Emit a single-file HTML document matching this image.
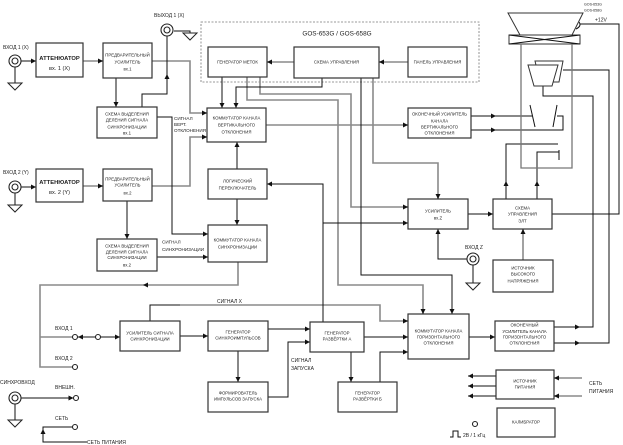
<!DOCTYPE html>
<html><head><meta charset="utf-8"><style>
html,body{margin:0;padding:0;background:#fff;}
svg{display:block;}
text{font-family:"Liberation Sans",Arial,sans-serif;fill:#222;}
.b{fill:#fff;stroke:#333;stroke-width:1.2;}
.k{fill:none;stroke:#111;stroke-width:1;}
.g{fill:none;stroke:#8a8a8a;stroke-width:1.6;}
.t{font-size:4.3px;text-anchor:middle;}
.l{font-size:5px;}
.a{fill:#111;stroke:none;}
</style></head><body>
<svg width="623" height="445" viewBox="0 0 623 445" xmlns="http://www.w3.org/2000/svg">

<rect x="201" y="22" width="278" height="60" fill="none" stroke="#777" stroke-width="0.8" stroke-dasharray="2,1.5"/>
<text x="337" y="35.5" style="font-size:6.4px;text-anchor:middle;">GOS-653G / GOS-658G</text>

<path class="g" d="M83,61 H103"/>
<path class="g" d="M83,186 H103"/>
<path class="g" d="M152,61 H190 V113 H207"/>
<path class="g" d="M152,186 H190 V137 H207"/>
<path class="g" d="M247,77 V100 H338 V285 H423 V314"/>
<path class="g" d="M260,77 V94 H351 V207 H408"/>
<path class="g" d="M373,78 V163 H438 V199"/>
<path class="g" d="M408,62 H379"/>
<path class="g" d="M294,62 H267"/>
<path class="g" d="M266,125 H408"/>
<path class="g" d="M238,262 V285 H40 V367 H72.5 M40,337 H72.5"/>
<path class="g" d="M523,260 V229"/>
<path class="g" d="M582,378 H554 M582,396 H554"/>
<path class="g" d="M180,305 H380 V321 H408"/>

<path class="k" d="M21,61 H36"/>
<path class="k" d="M21,187 H36"/>
<path class="k" d="M116,78 V107"/>
<path class="k" d="M127,201 V239"/>
<path class="k" d="M142,107 V94 H167 V36"/>
<path class="k" d="M157,117 H172 V234 H208"/>
<path class="k" d="M157,257 H208"/>
<path class="k" d="M222,77 V108"/>
<path class="k" d="M322,78 V87 H236 V108"/>
<path class="k" d="M361,78 V275 H452 V314"/>
<path class="k" d="M237,169 V142"/>
<path class="k" d="M237,199 V225"/>
<path class="k" d="M323,322 V184 H267"/>
<path class="k" d="M323,223 H408"/>
<path class="k" d="M468,214 H493"/>
<path class="k" d="M506,199 V144 H558"/>
<path class="k" d="M537,199 V152 H559 M559,150 V160"/>
<path class="k" d="M438,229 V259 H467"/>
<path class="k" d="M552,214 H619 V24 H580"/>
<path class="k" d="M576,29 Q582,26 579,22"/>
<path class="k" d="M471,116 H532"/>
<path class="k" d="M471,130 H563 V116 H557"/>
<path class="k" d="M554,327 H593 V96 H543 V86" stroke="#555"/>
<path class="k" d="M554,343 H609 V70 H563" stroke="#555"/>
<path class="k" d="M150,321 V305 H180"/>
<path class="k" d="M180,336 H208"/>
<path class="k" d="M100.5,337 H120"/>
<path class="k" d="M77.5,337 H95.5"/>
<path class="k" d="M268,329 H310"/>
<path class="k" d="M238,351 V382"/>
<path class="k" d="M268,397 H288 V342 H310"/>
<path class="k" d="M364,337 H408"/>
<path class="k" d="M351,352 V382"/>
<path class="k" d="M380,382 V352 H408"/>
<path class="k" d="M469,337 H495"/>
<path class="k" d="M496,376 H468 M496,386 H468 M496,396 H468"/>
<path class="k" d="M21,398 H73.5"/>
<path class="k" d="M72.5,427 H43 V442 H87"/>
<path class="k" d="M450,437 H453 V431 H458 V437 H461"/>

<path class="k" d="M15,67 V83"/><polygon points="8,83 22,83 15,90" fill="#fff" stroke="#222" stroke-width="1"/>
<path class="k" d="M15,193 V205"/><polygon points="8,205 22,205 15,212" fill="#fff" stroke="#222" stroke-width="1"/>
<path class="k" d="M15,404 V420"/><polygon points="8,420 22,420 15,427" fill="#fff" stroke="#222" stroke-width="1"/>
<path class="k" d="M473,265 V283"/><polygon points="466,283 480,283 473,290" fill="#fff" stroke="#222" stroke-width="1"/>
<path class="k" d="M174,31 H190 V33"/><polygon points="183,33 197,33 190,40" fill="#fff" stroke="#222" stroke-width="1"/>

<g fill="#fff" stroke="#222" stroke-width="1.1">
<circle cx="15" cy="61" r="6"/><circle cx="15" cy="61" r="3"/>
<circle cx="167" cy="30" r="6"/><circle cx="167" cy="30" r="3"/>
<circle cx="15" cy="187" r="6"/><circle cx="15" cy="187" r="3"/>
<circle cx="15" cy="398" r="6"/><circle cx="15" cy="398" r="3"/>
<circle cx="473" cy="259" r="6"/><circle cx="473" cy="259" r="3"/>
<circle cx="75" cy="337" r="2.5"/><circle cx="98" cy="337" r="2.5"/>
<circle cx="75" cy="367" r="2.5"/><circle cx="76" cy="398" r="2.5"/>
<circle cx="75" cy="427" r="2.5"/><circle cx="475" cy="424" r="2.5"/>
</g>

<polygon points="508,13 583,13 572,35 520,35" fill="#fff" stroke="#333" stroke-width="1"/>
<rect x="509" y="35" width="71" height="9" fill="#fff" stroke="#333" stroke-width="1"/>
<path class="k" d="M509,35 L580,44 M509,44 L580,35"/>
<path d="M521,44 V168 H572 V44" fill="none" stroke="#777" stroke-width="1.3"/>
<polygon points="535,61 563,61 559,82 540,82" fill="#fff" stroke="#333" stroke-width="1"/>
<polygon points="528,65 558,65 552,86 534,86" fill="#fff" stroke="#333" stroke-width="1"/>
<path class="k" d="M530,105 L535,127 M557,105 L553,127"/>

<rect class="b" x="36" y="43" width="47" height="34"/>
<rect class="b" x="103" y="43" width="49" height="35"/>
<rect class="b" x="97" y="107" width="60" height="31"/>
<rect class="b" x="36" y="169" width="47" height="33"/>
<rect class="b" x="103" y="169" width="49" height="32"/>
<rect class="b" x="97" y="239" width="60" height="32"/>
<rect class="b" x="208" y="47" width="59" height="30"/>
<rect class="b" x="294" y="47" width="85" height="31"/>
<rect class="b" x="408" y="47" width="59" height="30"/>
<rect class="b" x="207" y="108" width="59" height="34"/>
<rect class="b" x="408" y="108" width="63" height="30"/>
<rect class="b" x="208" y="169" width="59" height="30"/>
<rect class="b" x="208" y="225" width="59" height="37"/>
<rect class="b" x="408" y="199" width="60" height="30"/>
<rect class="b" x="493" y="199" width="59" height="30"/>
<rect class="b" x="493" y="260" width="60" height="32"/>
<rect class="b" x="120" y="321" width="60" height="30"/>
<rect class="b" x="208" y="321" width="60" height="30"/>
<rect class="b" x="208" y="382" width="60" height="30"/>
<rect class="b" x="310" y="322" width="54" height="30"/>
<rect class="b" x="338" y="382" width="59" height="30"/>
<rect class="b" x="408" y="314" width="61" height="45"/>
<rect class="b" x="495" y="321" width="59" height="30"/>
<rect class="b" x="496" y="370" width="58" height="29"/>
<rect class="b" x="497" y="408" width="58" height="29"/>

<g class="a">
<polygon points="36,61 31,58.5 31,63.5"/>
<polygon points="103,61 98,58.5 98,63.5"/>
<polygon points="207,113 202,110.5 202,115.5"/>
<polygon points="116,107 113.5,102 118.5,102"/>
<polygon points="167,74 164.5,79 169.5,79"/>
<polygon points="208,234 203,231.5 203,236.5"/>
<polygon points="207,137 202,134.5 202,139.5"/>
<polygon points="36,187 31,184.5 31,189.5"/>
<polygon points="103,186 98,183.5 98,188.5"/>
<polygon points="127,239 124.5,234 129.5,234"/>
<polygon points="208,257 203,254.5 203,259.5"/>
<polygon points="222,108 219.5,103 224.5,103"/>
<polygon points="236,108 233.5,103 238.5,103"/>
<polygon points="423,314 420.5,309 425.5,309"/>
<polygon points="408,207 403,204.5 403,209.5"/>
<polygon points="452,314 449.5,309 454.5,309"/>
<polygon points="438,199 435.5,194 440.5,194"/>
<polygon points="379,62 384,59.5 384,64.5"/>
<polygon points="267,62 272,59.5 272,64.5"/>
<polygon points="408,125 403,122.5 403,127.5"/>
<polygon points="237,142 234.5,147 239.5,147"/>
<polygon points="237,225 234.5,220 239.5,220"/>
<polygon points="267,184 272,181.5 272,186.5"/>
<polygon points="408,223 403,220.5 403,225.5"/>
<polygon points="143,285 148,282.5 148,287.5"/>
<polygon points="493,214 488,211.5 488,216.5"/>
<polygon points="506,181 503.5,186 508.5,186"/>
<polygon points="537,181 534.5,186 539.5,186"/>
<polygon points="523,229 520.5,234 525.5,234"/>
<polygon points="438,229 435.5,234 440.5,234"/>
<polygon points="496,116 491,113.5 491,118.5"/>
<polygon points="496,130 491,127.5 491,132.5"/>
<polygon points="580,327 575,324.5 575,329.5"/>
<polygon points="580,343 575,340.5 575,345.5"/>
<polygon points="408,321 403,318.5 403,323.5"/>
<polygon points="208,336 203,333.5 203,338.5"/>
<polygon points="120,337 115,334.5 115,339.5"/>
<polygon points="78,337 83,334.5 83,339.5"/>
<polygon points="310,329 305,326.5 305,331.5"/>
<polygon points="238,382 235.5,377 240.5,377"/>
<polygon points="310,342 305,339.5 305,344.5"/>
<polygon points="408,337 403,334.5 403,339.5"/>
<polygon points="351,382 348.5,377 353.5,377"/>
<polygon points="408,352 403,349.5 403,354.5"/>
<polygon points="495,337 490,334.5 490,339.5"/>
<polygon points="468,376 473,373.5 473,378.5"/>
<polygon points="468,386 473,383.5 473,388.5"/>
<polygon points="468,396 473,393.5 473,398.5"/>
<polygon points="554,378 559,375.5 559,380.5"/>
<polygon points="554,396 559,393.5 559,398.5"/>
<polygon points="73.5,398 68.5,395.5 68.5,400.5"/>
<polygon points="43,429 40.5,434 45.5,434"/>
</g>

<text x="59.5" y="60" style="font-size:5.8px;font-weight:bold;text-anchor:middle;">АТТЕНЮАТОР</text>
<text x="59.5" y="70" style="font-size:5.6px;text-anchor:middle;">вх. 1 (X)</text>
<text x="59.5" y="184" style="font-size:5.8px;font-weight:bold;text-anchor:middle;">АТТЕНЮАТОР</text>
<text x="59.5" y="194" style="font-size:5.6px;text-anchor:middle;">вх. 2 (Y)</text>

<text class="t" x="127.5" y="56.6">ПРЕДВАРИТЕЛЬНЫЙ</text>
<text class="t" x="127.5" y="63.6">УСИЛИТЕЛЬ</text>
<text class="t" x="127.5" y="70.6">вх.1</text>

<text class="t" x="127.5" y="180.5">ПРЕДВАРИТЕЛЬНЫЙ</text>
<text class="t" x="127.5" y="186.5">УСИЛИТЕЛЬ</text>
<text class="t" x="127.5" y="194.5">вх.2</text>

<text class="t" x="127" y="115.5">СХЕМА ВЫДЕЛЕНИЯ</text>
<text class="t" x="127" y="121.5">ДЕЛЕНИЯ СИГНАЛА</text>
<text class="t" x="127" y="128.5">СИНХРОНИЗАЦИИ</text>
<text class="t" x="127" y="134.5">вх.1</text>

<text class="t" x="127" y="247.5">СХЕМА ВЫДЕЛЕНИЯ</text>
<text class="t" x="127" y="253.5">ДЕЛЕНИЯ СИГНАЛА</text>
<text class="t" x="127" y="259">СИНХРОНИЗАЦИИ</text>
<text class="t" x="127" y="266.5">вх.2</text>

<text class="t" x="237.5" y="63.5">ГЕНЕРАТОР МЕТОК</text>
<text class="t" x="336.5" y="63.5">СХЕМА УПРАВЛЕНИЯ</text>
<text class="t" x="437.5" y="63.5">ПАНЕЛЬ УПРАВЛЕНИЯ</text>

<text class="t" x="236.5" y="119.5">КОММУТАТОР КАНАЛА</text>
<text class="t" x="236.5" y="126.5">ВЕРТИКАЛЬНОГО</text>
<text class="t" x="236.5" y="133.5">ОТКЛОНЕНИЯ</text>

<text class="t" x="439.5" y="115.5">ОКОНЕЧНЫЙ УСИЛИТЕЛЬ</text>
<text class="t" x="439.5" y="122.5">КАНАЛА</text>
<text class="t" x="439.5" y="128.5">ВЕРТИКАЛЬНОГО</text>
<text class="t" x="439.5" y="134.5">ОТКЛОНЕНИЯ</text>

<text class="t" x="237.5" y="182.5">ЛОГИЧЕСКИЙ</text>
<text class="t" x="237.5" y="189.5">ПЕРЕКЛЮЧАТЕЛЬ</text>

<text class="t" x="237.5" y="241.5">КОММУТАТОР КАНАЛА</text>
<text class="t" x="237.5" y="248.5">СИНХРОНИЗАЦИИ</text>

<text class="t" x="438" y="212.5">УСИЛИТЕЛЬ</text>
<text class="t" x="438" y="219.5">вх.Z</text>

<text class="t" x="522.5" y="209.5">СХЕМА</text>
<text class="t" x="522.5" y="215.5">УПРАВЛЕНИЯ</text>
<text class="t" x="522.5" y="222.5">ЭЛТ</text>

<text class="t" x="523" y="269.5">ИСТОЧНИК</text>
<text class="t" x="523" y="275.5">ВЫСОКОГО</text>
<text class="t" x="523" y="282.5">НАПРЯЖЕНИЯ</text>

<text class="t" x="150" y="334.5">УСИЛИТЕЛЬ СИГНАЛА</text>
<text class="t" x="150" y="340.5">СИНХРОНИЗАЦИИ</text>

<text class="t" x="238" y="333.5">ГЕНЕРАТОР</text>
<text class="t" x="238" y="339.5">СИНХРОИМПУЛЬСОВ</text>

<text class="t" x="238" y="394.5">ФОРМИРОВАТЕЛЬ</text>
<text class="t" x="238" y="400.5">ИМПУЛЬСОВ ЗАПУСКА</text>

<text class="t" x="337" y="334.5">ГЕНЕРАТОР</text>
<text class="t" x="337" y="340.5">РАЗВЁРТКИ А</text>

<text class="t" x="367.5" y="394.5">ГЕНЕРАТОР</text>
<text class="t" x="367.5" y="400.5">РАЗВЁРТКИ Б</text>

<text class="t" x="438.5" y="332.5">КОММУТАТОР КАНАЛА</text>
<text class="t" x="438.5" y="338.5">ГОРИЗОНТАЛЬНОГО</text>
<text class="t" x="438.5" y="344.5">ОТКЛОНЕНИЯ</text>

<text class="t" x="524.5" y="326.5">ОКОНЕЧНЫЙ</text>
<text class="t" x="524.5" y="333">УСИЛИТЕЛЬ КАНАЛА</text>
<text class="t" x="524.5" y="338.5">ГОРИЗОНТАЛЬНОГО</text>
<text class="t" x="524.5" y="344.5">ОТКЛОНЕНИЯ</text>

<text class="t" x="525" y="382.5">ИСТОЧНИК</text>
<text class="t" x="525" y="388.5">ПИТАНИЯ</text>

<text class="t" x="526" y="423.5">КАЛИБРАТОР</text>

<text class="l" x="3" y="49">ВХОД 1 (X)</text>
<text class="l" x="154" y="17">ВЫХОД 1 (X)</text>
<text class="l" x="3" y="174">ВХОД 2 (Y)</text>
<text x="174" y="120" style="font-size:4.6px;">СИГНАЛ</text>
<text x="174" y="126" style="font-size:4.6px;">ВЕРТ.</text>
<text x="174" y="132" style="font-size:4.6px;">ОТКЛОНЕНИЯ</text>
<text x="162" y="243.5" style="font-size:4.6px;">СИГНАЛ</text>
<text x="162" y="251" style="font-size:4.6px;">СИНХРОНИЗАЦИИ</text>
<text class="l" x="217" y="303">СИГНАЛ X</text>
<text class="l" x="291" y="362">СИГНАЛ</text>
<text class="l" x="291" y="370">ЗАПУСКА</text>
<text class="l" x="55" y="330">ВХОД 1</text>
<text class="l" x="55" y="360">ВХОД 2</text>
<text class="l" x="0" y="384">СИНХРОВХОД</text>
<text class="l" x="55" y="389">ВНЕШН.</text>
<text class="l" x="55" y="420">СЕТЬ</text>
<text class="l" x="87" y="444">СЕТЬ ПИТАНИЯ</text>
<text class="l" x="465" y="249">ВХОД Z</text>
<text class="l" x="589" y="385">СЕТЬ</text>
<text class="l" x="589" y="393">ПИТАНИЯ</text>
<text class="l" x="463" y="437">2В / 1 кГц</text>
<text class="l" x="595" y="21.5">+12V</text>
<text x="584" y="5.5" style="font-size:3.6px;">GOS-653G</text>
<text x="584" y="11.5" style="font-size:3.6px;">GOS-658G</text>
</svg>
</body></html>
